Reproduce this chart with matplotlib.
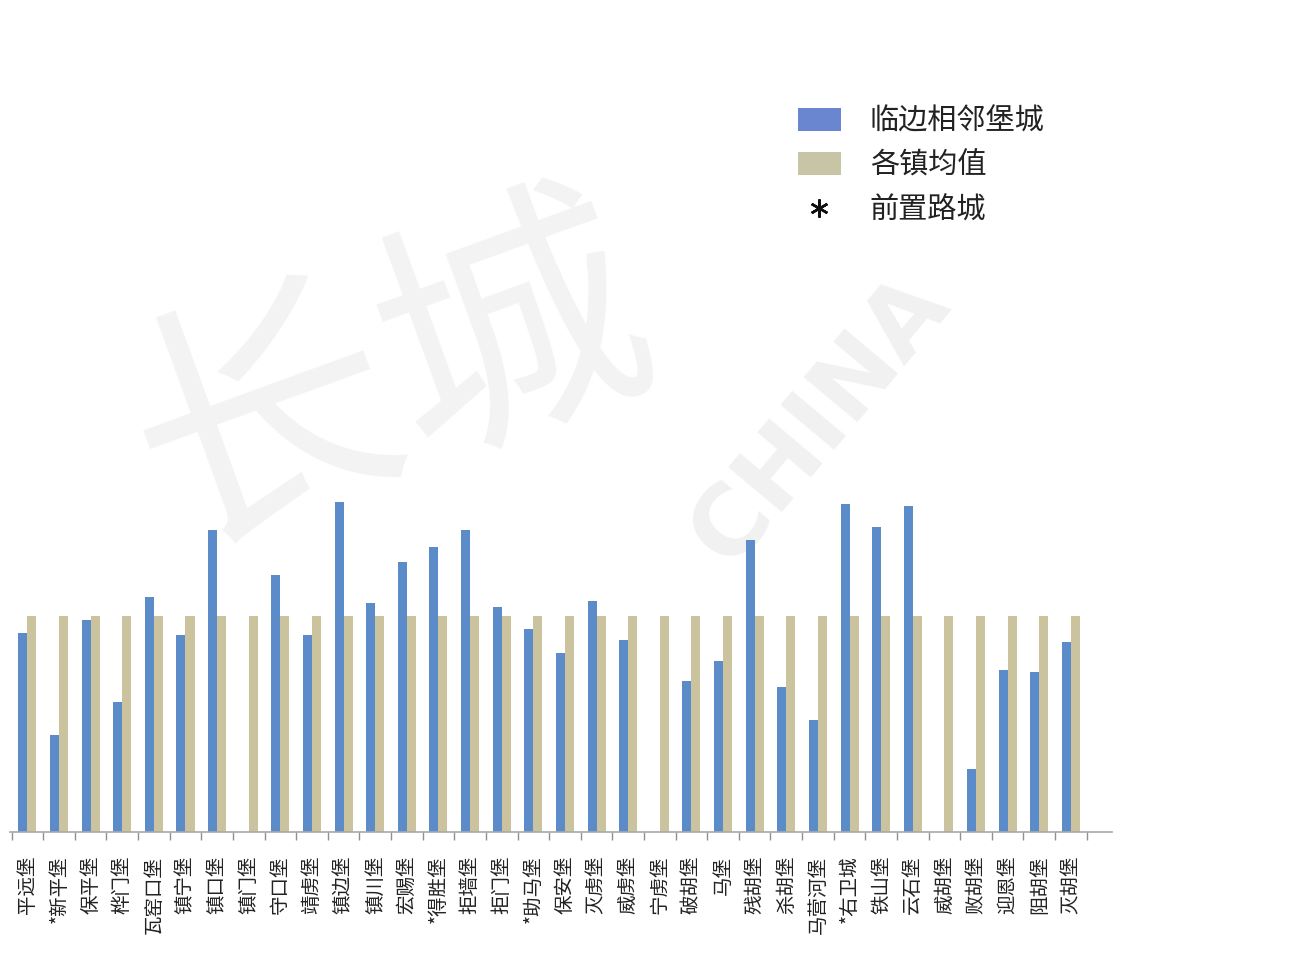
import matplotlib
matplotlib.use("Agg")
import matplotlib.pyplot as plt
from matplotlib.patches import Patch
from matplotlib.lines import Line2D
import numpy as np

plt.rcParams['font.family'] = ['Noto Sans CJK SC', 'DejaVu Sans']

categories = ["平远堡", "*新平堡", "保平堡", "桦门堡", "瓦窑口堡", "镇宁堡", "镇口堡", "镇门堡",
              "守口堡", "靖虏堡", "镇边堡", "镇川堡", "宏赐堡", "*得胜堡", "拒墙堡", "拒门堡",
              "*助马堡", "保安堡", "灭虏堡", "威虏堡", "宁虏堡", "破胡堡", "马堡", "残胡堡",
              "杀胡堡", "马营河堡", "*右卫城", "铁山堡", "云石堡", "威胡堡", "败胡堡", "迎恩堡",
              "阻胡堡", "灭胡堡"]

neighbor = [92, 45, 98, 60, 109, 91, 140, 0, 119, 91, 153, 106, 125, 132, 140, 104, 94,
            83, 107, 89, 0, 70, 79, 135, 67, 52, 152, 141, 151, 0, 29, 75, 74, 88]
town_mean = [100] * len(categories)

legend_labels = ["临边相邻堡城", "各镇均值", "前置路城"]

blue = "#5b8bc9"
tan = "#cbc39d"

fig = plt.figure(figsize=(13.02, 9.55), dpi=100)

# faint watermark (behind everything)
fig.text(0.63, 0.56, "CHINA", fontsize=70, color="#f1f1f1", rotation=50,
         ha="center", va="center", fontweight="bold", zorder=-5, family="DejaVu Sans")
fig.text(0.30, 0.60, "长城", fontsize=190, color="#f3f3f3", rotation=20,
         ha="center", va="center", zorder=-5)

ax = fig.add_axes([10 / 1302, 1 - 832 / 955, 1102 / 1302, (832 - 60) / 955])
ax.set_zorder(1)

x = np.arange(len(categories))
w = 0.285
ax.bar(x - w / 2, neighbor, width=w, color=blue, zorder=2)
ax.bar(x + w / 2, town_mean, width=w, color=tan, zorder=2)

ax.set_xlim(-0.55, 34.3)
ax.set_ylim(0, 772 / 2.16)
ax.patch.set_alpha(0)

for s in ["top", "right", "left"]:
    ax.spines[s].set_visible(False)
ax.spines["bottom"].set_color("#a8a8a8")
ax.spines["bottom"].set_linewidth(1.2)
ax.set_yticks([])

ax.set_xticks(x)
ax.set_xticklabels(categories, rotation=90, fontsize=14, color="#222222", va="top", ha="center")
ax.tick_params(axis="x", which="major", length=0, pad=17)
ax.set_xticks(np.arange(len(categories) + 1) - 0.5, minor=True)
ax.tick_params(axis="x", which="minor", length=6, color="#909090", width=1)

handles = [Patch(facecolor="#6a86d0", edgecolor="none"),
           Patch(facecolor="#c8c4a6", edgecolor="none"),
           Line2D([0], [0], marker=(6, 2, 0), color="#111111", linestyle="none",
                  markersize=13, markeredgewidth=1.8)]
leg = fig.legend(handles, legend_labels, loc="upper left", bbox_to_anchor=(772 / 1302, 1 - 80 / 955),
                 frameon=False, fontsize=21, handlelength=1.45, handleheight=0.85,
                 handletextpad=1.0, labelspacing=0.5)
for t in leg.get_texts():
    t.set_color("#222222")

fig.savefig("out.png", dpi=100)
